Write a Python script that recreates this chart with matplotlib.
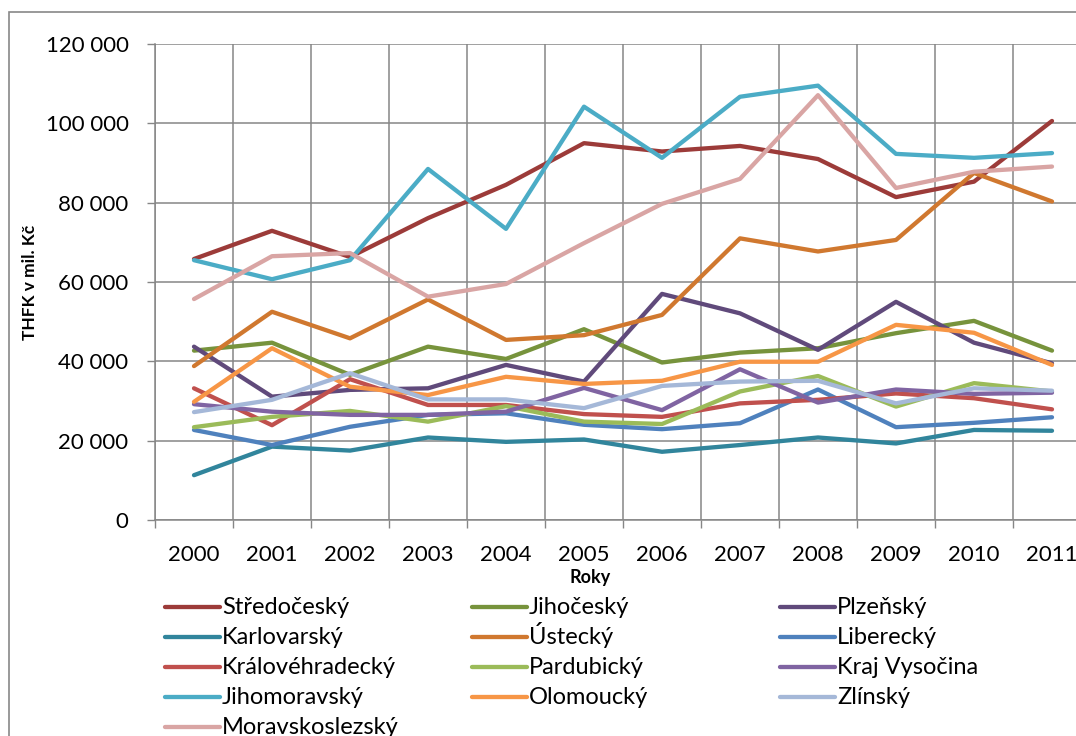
import matplotlib.pyplot as plt
from matplotlib.patches import Rectangle
from matplotlib.lines import Line2D
from matplotlib.ticker import FuncFormatter, FixedLocator
import numpy as np

plt.rcParams['font.family'] = ['Lato', 'DejaVu Sans']

W, H = 1076, 736

years = ['2000', '2001', '2002', '2003', '2004', '2005',
         '2006', '2007', '2008', '2009', '2010', '2011']

regions = ['Středočeský', 'Jihočeský', 'Plzeňský', 'Karlovarský', 'Ústecký',
           'Liberecký', 'Královéhradecký', 'Pardubický', 'Kraj Vysočina',
           'Jihomoravský', 'Olomoucký', 'Zlínský', 'Moravskoslezský']

stredocesky = [65800, 72900, 66300, 76100, 84500, 95000, 92900, 94300, 91000, 81400, 85300, 100600]
jihocesky = [42700, 44700, 36600, 43700, 40600, 48100, 39700, 42200, 43300, 47100, 50200, 42700]
plzensky = [43700, 31100, 32800, 33200, 39100, 34900, 57000, 52100, 42900, 55000, 44700, 39500]
karlovarsky = [11300, 18500, 17500, 20800, 19700, 20300, 17200, 18900, 20800, 19300, 22700, 22500]
ustecky = [38800, 52500, 45800, 55600, 45400, 46600, 51700, 71000, 67700, 70600, 87500, 80300]
liberecky = [22700, 18900, 23500, 26500, 26900, 24000, 22900, 24400, 32900, 23400, 24500, 25900]
kralovehradecky = [33200, 23900, 35500, 29000, 29000, 26700, 26000, 29400, 30300, 31900, 30700, 27900]
pardubicky = [23400, 26000, 27500, 24800, 28700, 24800, 24200, 32400, 36300, 28600, 34500, 32400]
vysocina = [29200, 27300, 26500, 26500, 27300, 33300, 27700, 38000, 29600, 32900, 31800, 32100]
jihomoravsky = [65500, 60700, 65500, 88500, 73400, 104200, 91300, 106700, 109500, 92300, 91300, 92500]
olomoucky = [29800, 43300, 33600, 31500, 36100, 34300, 35100, 39900, 39900, 49200, 47200, 39100]
zlinsky = [27200, 30300, 37000, 30400, 30400, 28200, 33800, 34900, 35100, 29400, 33200, 32600]
moravskoslezsky = [55700, 66500, 67300, 56300, 59500, 69800, 79700, 86000, 107100, 83700, 87800, 89100]

series = [stredocesky, jihocesky, plzensky, karlovarsky, ustecky, liberecky,
          kralovehradecky, pardubicky, vysocina, jihomoravsky, olomoucky,
          zlinsky, moravskoslezsky]

colors = ['#9C3B39', '#77933C', '#604A7B', '#31859C', '#D0782F', '#4F81BD',
          '#C0504D', '#9BBB59', '#8064A2', '#4BACC6', '#F79646', '#A5B8D8',
          '#D9A5A4']


def fx(px):
    return px / W


def fy(py):
    return 1 - py / H


fig = plt.figure(figsize=(W / 100, H / 100), dpi=100)

# outer chart border (cropped on right and bottom)
fig.patches.append(Rectangle((fx(9), fy(760)), fx(1200), fy(12) - fy(760),
                             transform=fig.transFigure, fill=False,
                             edgecolor='#888888', linewidth=1.2))

left, right, top, bottom = 155, 1091, 44, 520
ax = fig.add_axes([fx(left), fy(bottom), fx(right - left), fy(top) - fy(bottom)])

x = np.arange(len(years))
lw = 3.1
for name, vals, c in zip(regions, series, colors):
    ax.plot(x, vals, color=c, lw=lw, label=name,
            solid_capstyle='round', solid_joinstyle='round')

ax.set_xlim(-0.5, 11.5)
ax.set_ylim(0, 120000)

grid_c = '#868686'
ax.yaxis.set_major_locator(FixedLocator(np.arange(0, 120001, 20000)))
ax.yaxis.set_major_formatter(FuncFormatter(lambda v, p: f"{int(v):,}".replace(",", " ")))
ax.xaxis.set_major_locator(FixedLocator(np.arange(-0.5, 12, 1)))
ax.xaxis.set_major_formatter(FuncFormatter(lambda v, p: ''))
ax.set_xticks(x, years, minor=True)

ax.tick_params(axis='y', which='major', length=6, width=1, color=grid_c,
               pad=13, labelsize=16, labelcolor='black')
ax.tick_params(axis='x', which='major', length=6, width=1, color=grid_c)
ax.tick_params(axis='x', which='minor', length=0, pad=18, labelsize=16)

ax.grid(True, which='major', color=grid_c, linewidth=1.1)
ax.set_axisbelow(True)
for s in ['top', 'right']:
    ax.spines[s].set_visible(False)
for s in ['left', 'bottom']:
    ax.spines[s].set_color(grid_c)
    ax.spines[s].set_linewidth(1.1)

fig.text(fx(590), fy(578), 'Roky', fontsize=13, fontweight='bold',
         ha='center', va='center')
fig.text(fx(30), fy(282), 'THFK v mil. Kč', fontsize=12.5, fontweight='bold',
         rotation=90, ha='center', va='center')

# legend, three columns filled row by row
col_x = [165, 472, 780]
for i, (name, c) in enumerate(zip(regions, colors)):
    lx = col_x[i % 3]
    ly = 607 + 30 * (i // 3)
    fig.add_artist(Line2D([fx(lx), fx(lx + 55)], [fy(ly), fy(ly)],
                          transform=fig.transFigure, color=c, lw=lw,
                          solid_capstyle='round'))
    fig.text(fx(lx + 57), fy(ly + 7), name, fontsize=17, ha='left', va='baseline')

fig.savefig('out.png', dpi=100)
